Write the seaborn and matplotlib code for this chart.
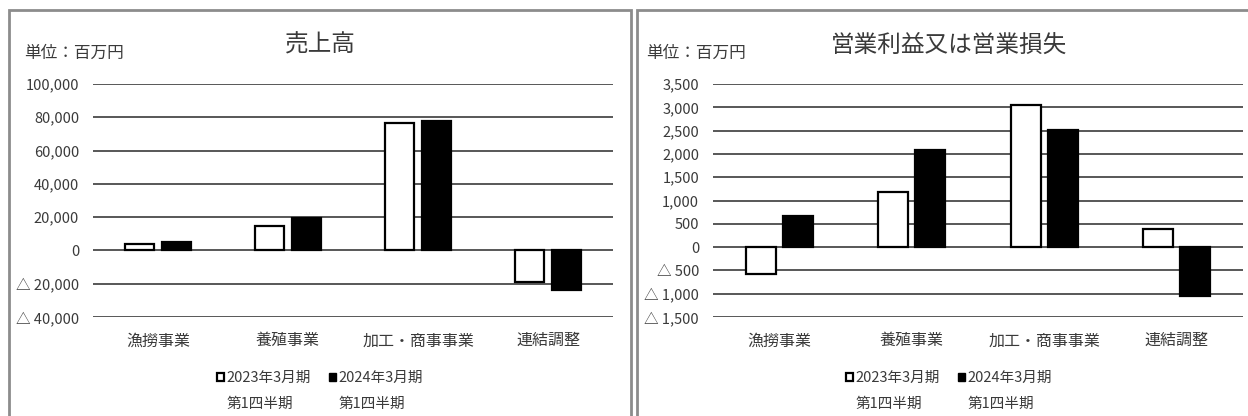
import numpy as np
import pandas as pd
import matplotlib
matplotlib.use('Agg')
import matplotlib.pyplot as plt
from matplotlib.patches import Patch, Rectangle
from matplotlib.ticker import FuncFormatter
import seaborn as sns

#### DATA

categories = ['漁撈事業', '養殖事業', '加工・商事事業', '連結調整']
periods = ['2023年3月期', '2024年3月期']
period_sub = '第1四半期'

sales_2023 = [3600, 14500, 76500, -19000]
sales_2024 = [5000, 19500, 77800, -23500]

op_2023 = [-570, 1180, 3050, 390]
op_2024 = [660, 2080, 2510, -1060]

sales_ticks = [-40000, -20000, 0, 20000, 40000, 60000, 80000, 100000]
op_ticks = [-1500, -1000, -500, 0, 500, 1000, 1500, 2000, 2500, 3000, 3500]

title_sales = '売上高'
title_op = '営業利益又は営業損失'
unit_text = '単位：百万円'

#### STYLE

sns.set_style("white")
plt.rcParams['font.family'] = ['Noto Sans CJK JP', 'DejaVu Sans']
txt_col = '#3a3a3a'
W, H = 1248, 416


def fmt_tri(v, pos):
    v = int(round(v))
    if v < 0:
        return '△ ' + f'{-v:,}'
    return f'{v:,}'


def draw_panel(ax, v23, v24, ticks):
    df = pd.DataFrame({
        '区分': categories * 2,
        '値': list(v23) + list(v24),
        '期': [periods[0]] * len(categories) + [periods[1]] * len(categories),
    })
    sns.barplot(data=df, x='区分', y='値', hue='期', order=categories, hue_order=periods,
                palette={periods[0]: 'white', periods[1]: 'black'}, edgecolor='black',
                linewidth=1.6, width=0.56, gap=0.2, errorbar=None, legend=False, ax=ax)
    ax.set_ylim(ticks[0], ticks[-1])
    ax.set_xlim(-0.5, len(categories) - 0.5)
    ax.set_yticks(ticks)
    ax.yaxis.set_major_formatter(FuncFormatter(fmt_tri))
    ax.set_axisbelow(True)
    ax.yaxis.grid(True, color='#4a4a4a', linewidth=1.3)
    for s in ax.spines.values():
        s.set_visible(False)
    ax.set_xlabel('')
    ax.set_ylabel('')
    ax.tick_params(axis='y', length=0, pad=10, labelsize=10.5, labelcolor=txt_col)
    ax.tick_params(axis='x', length=0, pad=11, labelsize=11.5, labelcolor=txt_col)
    ax.patch.set_alpha(0)

    handles = [Patch(facecolor='white', edgecolor='black', linewidth=1.6),
               Patch(visible=False),
               Patch(facecolor='black', edgecolor='black'),
               Patch(visible=False)]
    labels = [periods[0], period_sub, periods[1], period_sub]
    return handles, labels


fig = plt.figure(figsize=(W / 100, H / 100), dpi=100)

# panel frames
fig.add_artist(Rectangle((9 / W, -0.1), (631 - 9) / W, 1.1 - 10 / H, transform=fig.transFigure,
                         fill=False, edgecolor='#8c8c8c', linewidth=2))
fig.add_artist(Rectangle((637 / W, -0.1), 0.6, 1.1 - 10 / H, transform=fig.transFigure,
                         fill=False, edgecolor='#8c8c8c', linewidth=2))

ax1 = fig.add_axes([93 / W, 1 - 317 / H, 520 / W, 233 / H])
ax2 = fig.add_axes([713 / W, 1 - 317 / H, 530 / W, 233 / H])

for ax, v23, v24, ticks, title, cx, ux in [
        (ax1, sales_2023, sales_2024, sales_ticks, title_sales, 320, 24),
        (ax2, op_2023, op_2024, op_ticks, title_op, 949, 646)]:
    h, l = draw_panel(ax, v23, v24, ticks)
    fig.text(cx / W, 1 - 45 / H, title, ha='center', va='center', fontsize=17, color=txt_col)
    fig.text(ux / W, 1 - 53 / H, unit_text, ha='left', va='center', fontsize=12, color=txt_col)
    fig.legend(h, l, loc='upper center', bbox_to_anchor=(cx / W, 1 - 364 / H), ncol=2,
               frameon=False, fontsize=10.5, handlelength=0.5, handleheight=0.5,
               handletextpad=0.2, columnspacing=1.2, labelspacing=0.8, borderpad=0,
               labelcolor=txt_col)

plt.savefig('out.png', dpi=100)
